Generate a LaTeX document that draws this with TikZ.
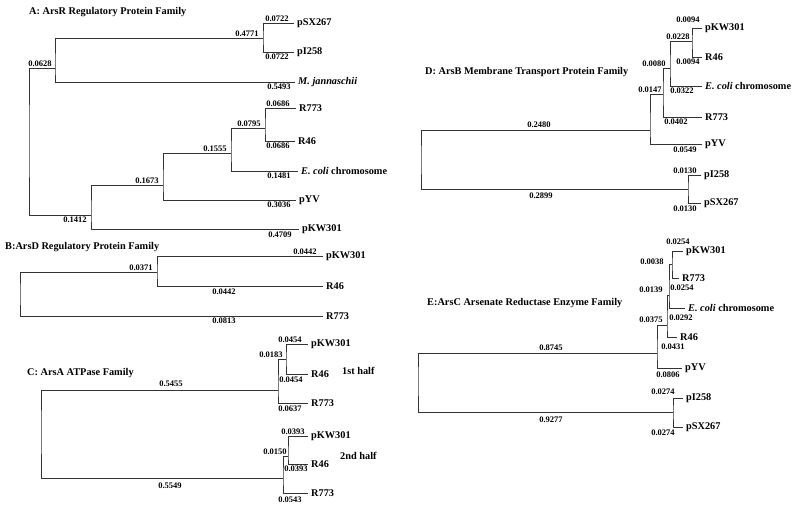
\documentclass[tikz,border=0pt]{standalone}
\usepackage{fontspec}
\setmainfont{Liberation Serif}
\tikzset{
	branch/.style={draw=black!80,line width=0.6pt},
	leaf/.style={anchor=west,inner xsep=3pt,inner ysep=1pt,font=\bfseries\fontsize{10.3}{12}\selectfont},
	blen/.style={inner sep=0.5pt,font=\bfseries\fontsize{8.5}{9}\selectfont},
	famtitle/.style={anchor=west,inner sep=0pt,font=\bfseries\fontsize{10.3}{12}\selectfont}
}
\begin{document}
\begin{tikzpicture}[x=1pt,y=-1pt]
	\useasboundingbox (0,0) rectangle (800,509);
	% A
	\node [famtitle] (tA) at (29,12) {A: ArsR Regulatory Protein Family};
	\coordinate (a0) at (29,140);
	\coordinate (a1) at (55,68);
	\coordinate (a2) at (263,38);
	\coordinate (a3) at (91,215);
	\coordinate (a4) at (163,185);
	\coordinate (a5) at (231,153);
	\coordinate (a6) at (265,128);
	\node [leaf] (aSX) at (294,23) {pSX267};
	\node [leaf] (aI) at (294,52) {pI258};
	\node [leaf] (aMj) at (295,82) {\textit{M. jannaschii}};
	\node [leaf] (aR773) at (296,108) {R773};
	\node [leaf] (aR46) at (295,141) {R46};
	\node [leaf] (aEc) at (298,171) {\textit{E. coli} chromosome};
	\node [leaf] (aYV) at (296,200) {pYV};
	\node [leaf] (aKW) at (299,229) {pKW301};
	\draw [branch] (a1) -| (a0) |- (a3);
	\draw [branch] (a2) -| (a1) |- (aMj.west);
	\draw [branch] (aSX.west) -| (a2) |- (aI.west);
	\draw [branch] (a4) -| (a3) |- (aKW.west);
	\draw [branch] (a5) -| (a4) |- (aYV.west);
	\draw [branch] (a6) -| (a5) |- (aEc.west);
	\draw [branch] (aR773.west) -| (a6) |- (aR46.west);
	\node [blen] (la1) at (40,64) {0.0628};
	\node [blen] (la2) at (247,34) {0.4771};
	\node [blen] (la3) at (277,19) {0.0722};
	\node [blen] (la4) at (277,57) {0.0722};
	\node [blen] (la5) at (279,87) {0.5493};
	\node [blen] (la6) at (278,104) {0.0686};
	\node [blen] (la7) at (278,146) {0.0686};
	\node [blen] (la8) at (249,124) {0.0795};
	\node [blen] (la9) at (215,149) {0.1555};
	\node [blen] (la10) at (279,176) {0.1481};
	\node [blen] (la11) at (147,181) {0.1673};
	\node [blen] (la12) at (279,205) {0.3036};
	\node [blen] (la13) at (75,220) {0.1412};
	\node [blen] (la14) at (280,235) {0.4709};
	% B
	\node [famtitle] (tB) at (5,247) {B:ArsD Regulatory Protein Family};
	\coordinate (b0) at (20,294);
	\coordinate (b1) at (157,272);
	\node [leaf] (bKW) at (323,256) {pKW301};
	\node [leaf] (bR46) at (323,286) {R46};
	\node [leaf] (bR773) at (323,316) {R773};
	\draw [branch] (b1) -| (b0) |- (bR773.west);
	\draw [branch] (bKW.west) -| (b1) |- (bR46.west);
	\node [blen] (lb1) at (141,268) {0.0371};
	\node [blen] (lb2) at (305,252) {0.0442};
	\node [blen] (lb3) at (224,292) {0.0442};
	\node [blen] (lb4) at (224,321) {0.0813};
	% C
	\node [famtitle] (tC) at (27,373) {C: ArsA ATPase Family};
	\coordinate (c0) at (41,430);
	\coordinate (c1) at (278,390);
	\coordinate (c2) at (286,359);
	\coordinate (c3) at (283,478);
	\coordinate (c4) at (288,456);
	\node [leaf] (cKW) at (308,344) {pKW301};
	\node [leaf] (cR46) at (308,374) {R46};
	\node [leaf] (cR773) at (308,403) {R773};
	\node [leaf] (cKWb) at (308,436) {pKW301};
	\node [leaf] (cR46b) at (308,464) {R46};
	\node [leaf] (cR773b) at (308,493) {R773};
	\node [leaf] (cH1) at (339,371) {1st half};
	\node [leaf] (cH2) at (337,456) {2nd half};
	\draw [branch] (c1) -| (c0) |- (c3);
	\draw [branch] (c2) -| (c1) |- (cR773.west);
	\draw [branch] (cKW.west) -| (c2) |- (cR46.west);
	\draw [branch] (c4) -| (c3) |- (cR773b.west);
	\draw [branch] (cKWb.west) -| (c4) |- (cR46b.west);
	\node [blen] (lc1) at (171,384) {0.5455};
	\node [blen] (lc2) at (271,355) {0.0183};
	\node [blen] (lc3) at (290,340) {0.0454};
	\node [blen] (lc4) at (291,380) {0.0454};
	\node [blen] (lc5) at (290,409) {0.0637};
	\node [blen] (lc6) at (170,486) {0.5549};
	\node [blen] (lc7) at (275,452) {0.0150};
	\node [blen] (lc8) at (293,432) {0.0393};
	\node [blen] (lc9) at (296,469) {0.0393};
	\node [blen] (lc10) at (290,500) {0.0543};
	% D
	\node [famtitle] (tD) at (425,72) {D: ArsB Membrane Transport Protein Family};
	\coordinate (d0) at (421,160);
	\coordinate (d1) at (650,130);
	\coordinate (d2) at (663,94);
	\coordinate (d3) at (670,68);
	\coordinate (d4) at (692,41);
	\coordinate (d5) at (688,189);
	\node [leaf] (dKW) at (702,28) {pKW301};
	\node [leaf] (dR46) at (702,57) {R46};
	\node [leaf] (dEc) at (702,86) {\textit{E. coli} chromosome};
	\node [leaf] (dR773) at (702,117) {R773};
	\node [leaf] (dYV) at (702,144) {pYV};
	\node [leaf] (dI) at (701,175) {pI258};
	\node [leaf] (dSX) at (701,203) {pSX267};
	\draw [branch] (d1) -| (d0) |- (d5);
	\draw [branch] (d2) -| (d1) |- (dYV.west);
	\draw [branch] (d3) -| (d2) |- (dR773.west);
	\draw [branch] (d4) -| (d3) |- (dEc.west);
	\draw [branch] (dKW.west) -| (d4) |- (dR46.west);
	\draw [branch] (dI.west) -| (d5) |- (dSX.west);
	\node [blen] (ld1) at (539,125) {0.2480};
	\node [blen] (ld2) at (541,196) {0.2899};
	\node [blen] (ld3) at (650,90) {0.0147};
	\node [blen] (ld4) at (654,64) {0.0080};
	\node [blen] (ld5) at (678,37) {0.0228};
	\node [blen] (ld6) at (688,20) {0.0094};
	\node [blen] (ld7) at (688,62) {0.0094};
	\node [blen] (ld8) at (682,91) {0.0322};
	\node [blen] (ld9) at (676,122) {0.0402};
	\node [blen] (ld10) at (685,150) {0.0549};
	\node [blen] (ld11) at (685,171) {0.0130};
	\node [blen] (ld12) at (685,209) {0.0130};
	% E
	\node [famtitle] (tE) at (427,303) {E:ArsC Arsenate Reductase Enzyme Family};
	\coordinate (e0) at (418,380);
	\coordinate (e1) at (657,353);
	\coordinate (e2) at (667,325);
	\coordinate (e3) at (669,295);
	\coordinate (e4) at (672,264);
	\coordinate (e5) at (673,412);
	\node [leaf] (eKW) at (683,251) {pKW301};
	\node [leaf] (eR773) at (679,278) {R773};
	\node [leaf] (eEc) at (685,308) {\textit{E. coli} chromosome};
	\node [leaf] (eR46) at (677,337) {R46};
	\node [leaf] (eYV) at (682,368) {pYV};
	\node [leaf] (eI) at (683,398) {pI258};
	\node [leaf] (eSX) at (683,427) {pSX267};
	\draw [branch] (e1) -| (e0) |- (e5);
	\draw [branch] (e2) -| (e1) |- (eYV.west);
	\draw [branch] (e3) -| (e2) |- (eR46.west);
	\draw [branch] (e4) -| (e3) |- (eEc.west);
	\draw [branch] (eKW.west) -| (e4) |- (eR773.west);
	\draw [branch] (eI.west) -| (e5) |- (eSX.west);
	\node [blen] (le1) at (551,348) {0.8745};
	\node [blen] (le2) at (551,420) {0.9277};
	\node [blen] (le3) at (651,320) {0.0375};
	\node [blen] (le4) at (651,290) {0.0139};
	\node [blen] (le5) at (652,262) {0.0038};
	\node [blen] (le6) at (678,242) {0.0254};
	\node [blen] (le7) at (682,288) {0.0254};
	\node [blen] (le8) at (681,318) {0.0292};
	\node [blen] (le9) at (673,347) {0.0431};
	\node [blen] (le10) at (668,375) {0.0806};
	\node [blen] (le11) at (663,392) {0.0274};
	\node [blen] (le12) at (663,433) {0.0274};
\end{tikzpicture}
\end{document}
